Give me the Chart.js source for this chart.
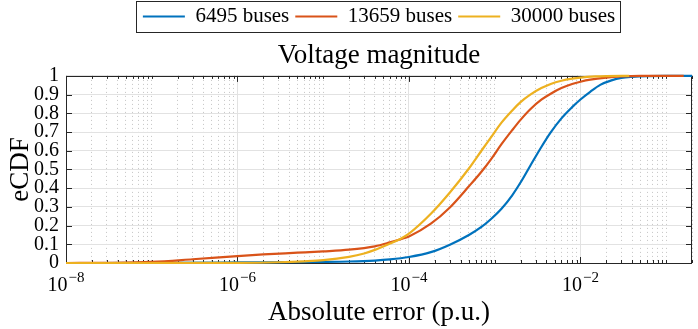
<!DOCTYPE html>
<html><head><meta charset="utf-8">
<script src="https://cdn.jsdelivr.net/npm/chart.js@4.4.0/dist/chart.umd.min.js"></script>
<style>html,body{margin:0;padding:0;background:#fff;}#wrap{width:698px;height:329px;}</style>
</head><body><div id="wrap"><canvas id="c" width="698" height="329"></canvas></div>
<script>
// ---- data ----
const seriesLabels = ['6495 buses', '13659 buses', '30000 buses'];
const seriesColors = ['#0072BD', '#D95319', '#EDB120'];

const err6495 = [1e-8, 1e-7, 1e-6, 1e-5, 2e-5, 4e-5, 6e-5, 1e-4, 1.8e-4, 3e-4, 5e-4, 7e-4, 9e-4, 1.2e-3, 1.6e-3, 2e-3, 2.6e-3, 3.5e-3, 4.5e-3, 6e-3, 8e-3, 1e-2, 1.3e-2, 1.7e-2, 2.3e-2, 3e-2, 4e-2, 6e-2, 1e-1, 2e-1];
const cdf6495 = [0, 0.0005, 0.003, 0.006, 0.008, 0.013, 0.019, 0.032, 0.058, 0.098, 0.15, 0.193, 0.234, 0.29, 0.362, 0.43, 0.52, 0.62, 0.698, 0.773, 0.833, 0.874, 0.915, 0.952, 0.976, 0.989, 0.995, 0.999, 1, 1];

const err13659 = [1e-8, 3e-8, 1e-7, 3e-7, 1e-6, 2e-6, 5e-6, 1e-5, 2e-5, 4e-5, 6e-5, 8e-5, 1e-4, 1.8e-4, 3e-4, 5e-4, 7e-4, 9e-4, 1.2e-3, 1.6e-3, 2e-3, 2.6e-3, 3.5e-3, 4.5e-3, 6e-3, 8e-3, 1e-2, 1.3e-2, 2e-2, 3e-2, 5e-2, 1.6e-1];
const cdf13659 = [0, 0.001, 0.006, 0.02, 0.037, 0.046, 0.055, 0.062, 0.071, 0.089, 0.11, 0.127, 0.142, 0.21, 0.297, 0.41, 0.488, 0.553, 0.635, 0.71, 0.765, 0.822, 0.873, 0.905, 0.935, 0.957, 0.969, 0.98, 0.991, 0.997, 1, 1];

const err30000 = [1e-8, 1e-6, 3e-6, 6e-6, 1e-5, 2e-5, 3e-5, 4e-5, 6e-5, 8e-5, 1e-4, 1.8e-4, 3e-4, 5e-4, 7e-4, 9e-4, 1.2e-3, 1.6e-3, 2e-3, 2.6e-3, 3.5e-3, 4.5e-3, 6e-3, 8e-3, 1e-2, 1.5e-2, 2e-2, 3.7e-2];
const cdf30000 = [0, 0.001, 0.004, 0.009, 0.015, 0.033, 0.051, 0.07, 0.104, 0.13, 0.157, 0.263, 0.377, 0.505, 0.6, 0.67, 0.75, 0.815, 0.86, 0.9, 0.935, 0.957, 0.974, 0.985, 0.991, 0.997, 0.999, 1];

const xMin = 1e-8, xMax = 0.2;
const xMajorTicks = [1e-8, 1e-6, 1e-4, 1e-2];
const xMajorBase = ['10', '10', '10', '10'];
const xMajorExp = ['\u22128', '\u22126', '\u22124', '\u22122'];
const yTicks = [0, 0.1, 0.2, 0.3, 0.4, 0.5, 0.6, 0.7, 0.8, 0.9, 1];
const yTickLabels = ['0', '0.1', '0.2', '0.3', '0.4', '0.5', '0.6', '0.7', '0.8', '0.9', '1'];

// minor log ticks (every mantissa 1..9 of each decade, excluding labelled majors)
const xMinorTicks = [];
for (let e = -8; e <= -1; e++) {
  for (let m = 1; m <= 9; m++) {
    const v = parseFloat(m + 'e' + e);
    if (v >= xMin && v <= xMax && !xMajorTicks.includes(v)) xMinorTicks.push(v);
  }
}
xMinorTicks.push(0.2);

const FONT = "'Liberation Serif', 'Times New Roman', serif";
const seriesX = [err6495, err13659, err30000];
const seriesY = [cdf6495, cdf13659, cdf30000];

const datasets = seriesLabels.map((lab, i) => ({
  label: lab,
  data: seriesX[i].map((x, j) => ({x: x, y: seriesY[i][j]})),
  borderColor: seriesColors[i],
  backgroundColor: seriesColors[i],
  borderWidth: 2.2,
  pointRadius: 0,
  fill: false,
  cubicInterpolationMode: 'monotone',
  clip: 4,
  order: 3 - i
}));

const framePlugin = {
  id: 'frame',
  beforeDatasetsDraw(chart) {
    const {ctx, chartArea: a, scales} = chart;
    ctx.save();
    ctx.strokeStyle = '#262626';
    ctx.lineWidth = 1;
    const seg = (x1, y1, x2, y2) => { ctx.beginPath(); ctx.moveTo(x1, y1); ctx.lineTo(x2, y2); ctx.stroke(); };
    scales.x.ticks.forEach(t => {
      const px = Math.round(scales.x.getPixelForValue(t.value)) + 0.5;
      seg(px, a.bottom, px, a.bottom - 6); seg(px, a.top, px, a.top + 6);
    });
    scales.xMinor.ticks.forEach(t => {
      const px = Math.round(scales.xMinor.getPixelForValue(t.value)) + 0.5;
      seg(px, a.bottom, px, a.bottom - 3); seg(px, a.top, px, a.top + 3);
    });
    scales.y.ticks.forEach(t => {
      const py = Math.round(scales.y.getPixelForValue(t.value)) + 0.5;
      seg(a.left, py, a.left + 6, py); seg(a.right, py, a.right - 6, py);
    });
    ctx.strokeRect(Math.round(a.left) + 0.5, Math.round(a.top) + 0.5, Math.round(a.width) - 1, Math.round(a.height));
    ctx.restore();
  },
  afterDraw(chart) {
    const ctx = chart.ctx;
    // x tick labels as 10 with raised exponent
    const xs = chart.scales.x;
    const a = chart.chartArea;
    ctx.save();
    ctx.fillStyle = '#000';
    ctx.textBaseline = 'alphabetic';
    ctx.textAlign = 'left';
    xs.ticks.forEach((t, i) => {
      const px = xs.getPixelForValue(t.value);
      ctx.font = '20px ' + FONT;
      const wb = ctx.measureText(xMajorBase[i]).width;
      ctx.font = '15px ' + FONT;
      const we = ctx.measureText(xMajorExp[i]).width;
      const x0 = px - (wb + we + 1) / 2;
      ctx.font = '20px ' + FONT;
      ctx.fillText(xMajorBase[i], x0, a.bottom + 28);
      ctx.font = '15px ' + FONT;
      ctx.fillText(xMajorExp[i], x0 + wb + 1, a.bottom + 19);
    });
    ctx.restore();

    // legend frame
    const hb = chart.legend && chart.legend.legendHitBoxes;
    if (!hb || !hb.length) return;
    const l = Math.min(...hb.map(h => h.left)) - 7;
    const r = Math.max(...hb.map(h => h.left + h.width)) + 5;
    const t = Math.min(...hb.map(h => h.top)) - 5;
    const b = Math.max(...hb.map(h => h.top + h.height)) + 5;
    ctx.save();
    ctx.strokeStyle = '#262626';
    ctx.lineWidth = 1;
    ctx.strokeRect(Math.round(l) + 0.5, Math.round(t) + 0.5, Math.round(r - l), Math.round(b - t));
    ctx.restore();
  }
};

new Chart(document.getElementById('c'), {
  type: 'line',
  data: {datasets: datasets},
  options: {
    responsive: false,
    animation: false,
    devicePixelRatio: 1,
    layout: {padding: {left: 0, right: 6, top: 0, bottom: 0}},
    plugins: {
      legend: {
        position: 'top',
        fullSize: false,
        weight: 3000,
        labels: {
          usePointStyle: true,
          pointStyle: 'line',
          pointStyleWidth: 42,
          padding: 6,
          color: '#000',
          font: {family: FONT, size: 21},
          sort: (a, b) => a.datasetIndex - b.datasetIndex
        }
      },
      title: {
        display: true,
        fullSize: false,
        text: 'Voltage magnitude',
        color: '#000',
        font: {family: FONT, size: 27, weight: 'normal'},
        padding: {top: 2.5, bottom: 4}
      },
      tooltip: {enabled: false}
    },
    scales: {
      x: {
        type: 'logarithmic',
        position: 'bottom',
        min: xMin, max: xMax,
        afterBuildTicks: s => { s.ticks = xMajorTicks.map(v => ({value: v})); },
        afterFit: s => { s.height = 66; },
        ticks: {display: false, autoSkip: false, maxRotation: 0},
        grid: {color: '#e2e2e2', lineWidth: 1, drawTicks: false},
        border: {display: false},
        title: {display: true, text: 'Absolute error (p.u.)', color: '#000', font: {family: FONT, size: 27}, padding: {top: 0, bottom: 0}}
      },
      xMinor: {
        type: 'logarithmic',
        position: 'bottom',
        min: xMin, max: xMax,
        afterBuildTicks: s => { s.ticks = xMinorTicks.map(v => ({value: v})); },
        afterFit: s => { s.height = 0; },
        ticks: {display: false},
        grid: {color: '#c4c4c4', lineWidth: 1, drawTicks: false},
        border: {display: false, dash: [1, 3]}
      },
      y: {
        min: 0, max: 1,
        afterBuildTicks: s => { s.ticks = yTicks.map(v => ({value: v})); },
        afterFit: s => { s.width = 66; },
        ticks: {
          autoSkip: false, color: '#000', padding: 7,
          font: {family: FONT, size: 20},
          callback: (v, i) => yTickLabels[i]
        },
        grid: {color: '#e2e2e2', lineWidth: 1, drawTicks: false},
        border: {display: false},
        title: {display: true, text: 'eCDF', color: '#000', font: {family: FONT, size: 27}, padding: {top: 5, bottom: 0}}
      }
    }
  },
  plugins: [framePlugin]
});
</script>
</body></html>
